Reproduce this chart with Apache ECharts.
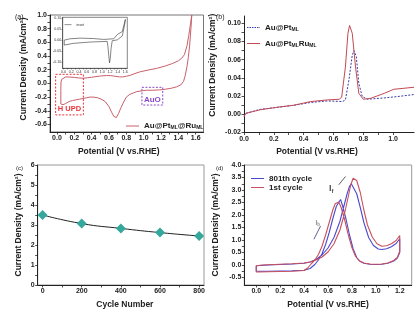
<!DOCTYPE html>
<html><head><meta charset="utf-8">
<script src="https://cdn.jsdelivr.net/npm/echarts@6/dist/echarts.min.js"></script>
<style>html,body{margin:0;padding:0;background:#fff}#c{width:420px;height:319px}</style>
</head><body><div id="c"></div>
<script>
// ---------- data ----------
// (a) CV of Au@Pt_ML@Ru_ML (closed loop, anodic then cathodic)
const aPotential = [0.045,0.045,0.047,0.055,0.07,0.1,0.15,0.2,0.25,0.3,0.35,0.4,0.45,0.5,0.57,0.62,0.67,0.72,0.76,0.8,0.85,0.9,0.96,1.05,1.15,1.25,1.33,1.4,1.44,1.47,1.5,1.52,1.54,1.555,
  1.545,1.53,1.515,1.5,1.48,1.46,1.43,1.38,1.32,1.25,1.18,1.1,1.03,0.97,0.92,0.88,0.84,0.8,0.77,0.74,0.71,0.685,0.67,0.655,0.63,0.6,0.56,0.52,0.47,0.42,0.38,0.34,0.3,0.26,0.22,0.18,0.14,0.1,0.07,0.05,0.045];
const aCurrent = [-0.30,-0.1,0.02,0.06,0.08,0.095,0.093,0.088,0.08,0.076,0.082,0.09,0.1,0.108,0.115,0.114,0.105,0.095,0.095,0.105,0.12,0.145,0.17,0.195,0.22,0.255,0.29,0.33,0.37,0.42,0.55,0.7,0.87,1.0,
  0.8,0.55,0.38,0.25,0.12,0.03,-0.02,-0.05,-0.07,-0.085,-0.095,-0.1,-0.1,-0.11,-0.12,-0.14,-0.16,-0.2,-0.27,-0.35,-0.44,-0.5,-0.51,-0.48,-0.42,-0.34,-0.27,-0.235,-0.21,-0.2,-0.2,-0.21,-0.22,-0.23,-0.24,-0.25,-0.265,-0.295,-0.31,-0.315,-0.30];
// (a) inset: AuNWs in H2SO4
const insetPotential = [0.02,0.02,0.17,0.43,0.78,1.04,1.30,1.40,1.52,1.6,1.58,1.52,1.39,1.26,1.23,1.21,1.19,1.17,1.15,1.13,0.69,0.26,0.02];
const insetCurrent = [-0.023,0.0,0.006,0.009,0.007,0.003,0.006,0.027,0.039,0.095,0.07,0.019,0.001,-0.003,-0.04,-0.085,-0.105,-0.07,-0.03,-0.006,-0.009,-0.015,-0.023];
// (b) CO stripping
const bPtPotential = [0,0.011,0.11,0.22,0.335,0.447,0.56,0.66,0.68,0.704,0.726,0.737,0.753,0.77,0.793,0.827,0.94,1.03,1.14];
const bPtCurrent = [-0.002,0.001,0.0055,0.0075,0.0099,0.013,0.0147,0.014,0.0158,0.038,0.065,0.070,0.0635,0.034,0.0195,0.0165,0.018,0.0195,0.0217];
const bPtRuPotential = [0,0.011,0.11,0.22,0.335,0.447,0.56,0.64,0.655,0.68,0.697,0.708,0.726,0.748,0.77,0.80,0.85,0.94,1.005,1.14];
const bPtRuCurrent = [-0.003,0.001,0.005,0.0077,0.010,0.014,0.0158,0.0165,0.019,0.052,0.089,0.0976,0.089,0.052,0.023,0.0165,0.0176,0.023,0.0275,0.0297];
// (c) durability
const cycleNumbers = [0,200,400,600,800];
const cycleCurrent = [3.5,3.07,2.83,2.62,2.45];
// (d) methanol oxidation CVs
const firstPotential = [0.0,0.05,0.1,0.2,0.3,0.4,0.45,0.5,0.55,0.6,0.65,0.7,0.74,0.77,0.79,0.81,0.825,0.84,0.87,0.9,0.93,0.97,1.01,1.05,1.09,1.13,1.17,1.2,
  1.2,1.18,1.15,1.1,1.05,1.0,0.95,0.9,0.86,0.83,0.8,0.77,0.74,0.71,0.69,0.675,0.66,0.64,0.61,0.58,0.55,0.52,0.49,0.46,0.43,0.4,0.3,0.2,0.1,0.02,0.0,0.0];
const firstCurrent = [-0.03,0.0,0.01,0.03,0.05,0.08,0.12,0.2,0.32,0.52,0.85,1.4,2.1,2.75,3.2,3.47,3.5,3.38,2.9,2.2,1.6,1.12,0.85,0.75,0.77,0.85,0.98,1.18,
  0.55,0.3,0.18,0.08,0.04,0.03,0.04,0.08,0.17,0.35,0.7,1.2,1.8,2.3,2.52,2.55,2.45,2.2,1.7,1.2,0.75,0.42,0.2,0.05,-0.12,-0.22,-0.25,-0.26,-0.27,-0.28,-0.28,-0.03];
const lastPotential = [0.0,0.1,0.2,0.3,0.4,0.45,0.5,0.55,0.6,0.65,0.7,0.73,0.76,0.78,0.795,0.81,0.84,0.87,0.9,0.94,0.98,1.02,1.05,1.09,1.13,1.17,1.2,
  1.2,1.18,1.15,1.1,1.05,1.0,0.95,0.9,0.87,0.84,0.81,0.78,0.75,0.72,0.705,0.69,0.67,0.64,0.61,0.58,0.55,0.52,0.49,0.45,0.4,0.3,0.2,0.1,0.02,0.0,0.0];
const lastCurrent = [-0.03,0.0,0.02,0.04,0.07,0.12,0.22,0.4,0.68,1.1,1.75,2.3,2.85,3.15,3.25,3.2,2.85,2.3,1.7,1.1,0.78,0.64,0.62,0.65,0.73,0.86,1.05,
  0.5,0.28,0.16,0.07,0.03,0.02,0.03,0.07,0.14,0.3,0.65,1.2,1.85,2.4,2.62,2.6,2.35,1.85,1.3,0.82,0.45,0.2,0.02,-0.14,-0.21,-0.23,-0.24,-0.25,-0.25,-0.25,-0.03];
// tick labels
const aXTicks = [0,0.2,0.4,0.6,0.8,1.0,1.2,1.4,1.6];
const aYTicks = [-0.6,-0.4,-0.2,0,0.2,0.4,0.6,0.8,1.0];
const insetXTicks = [0,0.2,0.4,0.6,0.8,1.0,1.2,1.4,1.6];
const insetYTicks = [-0.10,-0.05,0,0.05,0.10];
const bXTicks = [0,0.2,0.4,0.6,0.8,1.0];
const bYTicks = [-0.02,0,0.02,0.04,0.06,0.08,0.10];
const cXTicks = [0,200,400,600,800];
const cYTicks = [0,1,2,3,4,5,6];
const dXTicks = [0,0.2,0.4,0.6,0.8,1.0,1.2];
const dYTicks = [-0.5,0,0.5,1.0,1.5,2.0,2.5,3.0,3.5,4.0];

// ---------- helpers ----------
const zip = (xs, ys) => xs.map((x, i) => [x, ys[i]]);
const FONT = '"Liberation Sans", Arial, sans-serif';
function minors(ticks){ // ticks plus midpoints
  const out = [];
  for (let i = 0; i < ticks.length; i++){
    out.push(ticks[i]);
    if (i < ticks.length - 1) out.push(+((ticks[i] + ticks[i+1]) / 2).toFixed(4));
  }
  return out;
}
function axis(gi, min, max, labels, dec, extra){
  return Object.assign({
    type: 'value', gridIndex: gi, min: min, max: max,
    axisLine: {show: true, onZero: false, lineStyle: {color: '#222', width: 1}},
    axisTick: {show: true, length: 2.5, customValues: minors(labels), lineStyle: {color: '#222', width: 0.8}},
    axisLabel: {show: true, customValues: labels, fontSize: 7, fontWeight: 'bold', fontFamily: FONT, color: '#222', margin: 3,
      formatter: v => (+v).toFixed(dec)},
    splitLine: {show: false},
    nameTextStyle: {fontSize: 8.5, fontWeight: 'bold', fontFamily: FONT, color: '#222'}
  }, extra || {});
}
const yName = 'Current Density (mA/cm\u00B2)';
const xName = 'Potential (V vs.RHE)';
const subRich = {sub: {fontSize: 5, fontWeight: 'bold', fontFamily: FONT, color: '#222', padding: [4, 0, 0, 0]}};
const SOLID_ICON = 'path://M0,0H26V2H0Z';
const DASH_ICON = 'path://M0,0H3V2H0Z M5,0H8V2H5Z M10,0H13V2H10Z M15,0H18V2H15Z M20,0H23V2H20Z M25,0H26V2H25Z';
function leg(name, label, left, top, extra){
  return Object.assign({
    data: [{name: name, icon: SOLID_ICON}], left: left, top: top, orient: 'vertical', itemWidth: 13, itemHeight: 1.1, padding: 0,
    formatter: () => label,
    textStyle: {fontSize: 8, fontWeight: 'bold', fontFamily: FONT, color: '#222', rich: subRich}
  }, extra || {});
}

const RED_A = '#c8606a', RED = '#c24a55', BLUE_B = '#3c3ca8', RED_D = '#c9505c', BLUE_D = '#4a4ad0', TEAL = '#34a89c';

const option = {
  animation: false,
  backgroundColor: '#fff',
  title: [
    {text: '(a)', left: 10, top: 9, textStyle: {fontSize: 7, fontWeight: 'normal', fontFamily: FONT, color: '#222'}},
    {text: '(b)', left: 211, top: 9, textStyle: {fontSize: 7, fontWeight: 'normal', fontFamily: FONT, color: '#222'}},
    {text: '(c)', left: 11, top: 160, textStyle: {fontSize: 6, fontWeight: 'normal', fontFamily: FONT, color: '#222'}},
    {text: '(d)', left: 211, top: 160, textStyle: {fontSize: 6, fontWeight: 'normal', fontFamily: FONT, color: '#222'}}
  ],
  grid: [
    {left: 50, top: 15, width: 153.5, height: 117, show: true, borderColor: '#777', borderWidth: 1, backgroundColor: 'transparent'},
    {left: 62.7, top: 17.3, width: 64.6, height: 51, show: true, borderColor: '#333', borderWidth: 0.6, backgroundColor: 'transparent'},
    {left: 244, top: 16, width: 170, height: 116.5},
    {left: 37.7, top: 165, width: 166.3, height: 120, show: true, borderColor: '#999', borderWidth: 1, backgroundColor: 'transparent'},
    {left: 244.3, top: 165, width: 167.4, height: 120, show: true, borderColor: '#999', borderWidth: 1, backgroundColor: 'transparent'}
  ],
  xAxis: [
    axis(0, -0.08, 1.69, aXTicks, 1, {name: xName, nameLocation: 'middle', nameGap: 15,
      nameTextStyle: {fontSize: 8.5, fontWeight: 'bold', fontFamily: FONT, color: '#222', padding: [0, 16, 0, 0]}}),
    axis(1, -0.02, 1.65, insetXTicks, 1, {axisLine: {show: true, onZero: false, lineStyle: {color: '#333', width: 0.6}},
      axisTick: {show: true, length: 1.2, customValues: minors(insetXTicks), lineStyle: {color: '#333', width: 0.5}},
      axisLabel: {show: true, customValues: insetXTicks, fontSize: 3.6, fontFamily: FONT, color: '#333', margin: 1.5, formatter: v => (+v).toFixed(1)}}),
    axis(2, 0, 1.14, bXTicks, 1, {name: xName, nameLocation: 'middle', nameGap: 15,
      nameTextStyle: {fontSize: 8.5, fontWeight: 'bold', fontFamily: FONT, color: '#222', padding: [0, 24, 0, 0]}}),
    axis(3, -25, 825, cXTicks, 0, {name: 'Cycle Number', nameLocation: 'middle', nameGap: 15,
      nameTextStyle: {fontSize: 8.5, fontWeight: 'bold', fontFamily: FONT, color: '#222', padding: [0, 0, 0, 8]}}),
    axis(4, -0.1, 1.3, dXTicks, 1, {name: xName, nameLocation: 'middle', nameGap: 15})
  ],
  yAxis: [
    axis(0, -0.71, 1.0, aYTicks, 1, {name: yName, nameLocation: 'middle', nameGap: 22,
      nameTextStyle: {fontSize: 8.5, fontWeight: 'bold', fontFamily: FONT, color: '#222', padding: [0, 0, 0, 9]}}),
    axis(1, -0.13, 0.105, insetYTicks, 2, {axisLine: {show: true, onZero: false, lineStyle: {color: '#333', width: 0.6}},
      axisTick: {show: true, length: 1.2, customValues: insetYTicks, lineStyle: {color: '#333', width: 0.5}},
      axisLabel: {show: true, customValues: insetYTicks, fontSize: 3.6, fontFamily: FONT, color: '#333', margin: 1.5, formatter: v => (+v).toFixed(2)}}),
    axis(2, -0.02, 0.108, bYTicks, 2, {name: yName, nameLocation: 'middle', nameGap: 27,
      nameTextStyle: {fontSize: 8.5, fontWeight: 'bold', fontFamily: FONT, color: '#222', padding: [0, 0, 0, 18]}}),
    axis(3, 0, 6, cYTicks, 0, {name: yName, nameLocation: 'middle', nameGap: 15}),
    axis(4, -0.8, 4.0, dYTicks, 1, {name: yName, nameLocation: 'middle', nameGap: 24})
  ],
  legend: [
    leg('a', 'Au@Pt{sub|ML}@Ru{sub|ML}', 126, 122),
    leg('inset', 'AuNWs in H\u2082SO\u2084', 64.5, 22.8, {itemWidth: 7, itemHeight: 0.6,
      textStyle: {fontSize: 3.6, fontFamily: FONT, color: '#333'}, formatter: null}),
    Object.assign(leg('bPt', 'Au@Pt{sub|ML}', 247, 23.5), {data: [{name: 'bPt', icon: DASH_ICON}]}),
    leg('bPtRu', 'Au@Pt{sub|ML}Ru{sub|ML}', 247, 39.5),
    leg('d801', '801th cycle', 251, 174.5),
    leg('d1', '1st cycle', 251, 183.5)
  ],
  series: [
    {name: 'a', type: 'line', xAxisIndex: 0, yAxisIndex: 0, data: zip(aPotential, aCurrent), symbol: 'none',
      lineStyle: {color: RED_A, width: 1}, itemStyle: {color: RED_A}, clip: true,
      markArea: {silent: true, data: [
        [{name: 'H UPD', coord: [-0.015, 0.133], itemStyle: {color: 'rgba(0,0,0,0)', borderColor: '#e8343c', borderWidth: 1, borderType: [2, 1.5]},
          label: {show: true, position: 'insideBottom', distance: 2, color: '#e8343c', fontSize: 7.5, fontWeight: 'bold', fontFamily: FONT}},
         {coord: [0.305, -0.46]}],
        [{name: 'AuO', coord: [0.98, -0.057], itemStyle: {color: 'rgba(0,0,0,0)', borderColor: '#8a4ac8', borderWidth: 1, borderType: [2, 1.5]},
          label: {show: true, position: 'insideBottom', distance: 1.5, color: '#8a4ac8', fontSize: 8, fontWeight: 'bold', fontFamily: FONT}},
         {coord: [1.22, -0.316]}]
      ]}},
    {name: 'inset', type: 'line', xAxisIndex: 1, yAxisIndex: 1, data: zip(insetPotential, insetCurrent), symbol: 'none',
      lineStyle: {color: '#333', width: 0.6}, itemStyle: {color: '#333'}},
    {name: 'bPt', type: 'line', xAxisIndex: 2, yAxisIndex: 2, data: zip(bPtPotential, bPtCurrent), symbol: 'none',
      lineStyle: {color: BLUE_B, width: 1, type: [2, 1.5]}, itemStyle: {color: BLUE_B}},
    {name: 'bPtRu', type: 'line', xAxisIndex: 2, yAxisIndex: 2, data: zip(bPtRuPotential, bPtRuCurrent), symbol: 'none',
      lineStyle: {color: RED, width: 1}, itemStyle: {color: RED}},
    {name: 'c', type: 'line', xAxisIndex: 3, yAxisIndex: 3, data: zip(cycleNumbers, cycleCurrent), smooth: true,
      symbol: 'diamond', symbolSize: 10, lineStyle: {color: '#222', width: 1}, itemStyle: {color: TEAL}},
    {name: 'd801', type: 'line', xAxisIndex: 4, yAxisIndex: 4, data: zip(lastPotential, lastCurrent), symbol: 'none',
      lineStyle: {color: BLUE_D, width: 1.1}, itemStyle: {color: BLUE_D}},
    {name: 'd1', type: 'line', xAxisIndex: 4, yAxisIndex: 4, data: zip(firstPotential, firstCurrent), symbol: 'none',
      lineStyle: {color: RED_D, width: 1.1}, itemStyle: {color: RED_D},
      markLine: {silent: true, symbol: ['none', 'arrow'], symbolSize: [0, 4], label: {show: false},
        lineStyle: {color: '#333', width: 0.8, type: 'solid'},
        data: [
          [{coord: [0.69, 3.21]}, {coord: [0.746, 3.54]}],
          [{coord: [0.538, 1.56]}, {coord: [0.482, 1.03], lineStyle: {color: '#3a3a70'}}]
        ]}},
    {name: 'dLabels', type: 'scatter', xAxisIndex: 4, yAxisIndex: 4, symbolSize: 1, itemStyle: {color: 'rgba(0,0,0,0)'}, silent: true,
      data: [
        {value: [0.627, 3.04], label: {show: true, position: 'inside', formatter: 'I{s|f}', fontSize: 9, fontWeight: 'bold', fontFamily: FONT, color: '#222',
          rich: {s: {fontSize: 6, fontWeight: 'bold', fontFamily: FONT, color: '#222', padding: [5, 0, 0, 0]}}}},
        {value: [0.515, 1.69], label: {show: true, position: 'inside', formatter: 'I{s|b}', fontSize: 6.5, fontWeight: 'bold', fontFamily: FONT, color: '#777',
          rich: {s: {fontSize: 4.5, fontWeight: 'bold', fontFamily: FONT, color: '#777', padding: [4, 0, 0, 0]}}}}
      ]}
  ]
};
const chart = echarts.init(document.getElementById('c'), null, {renderer: 'canvas'});
chart.setOption(option);
</script></body></html>
